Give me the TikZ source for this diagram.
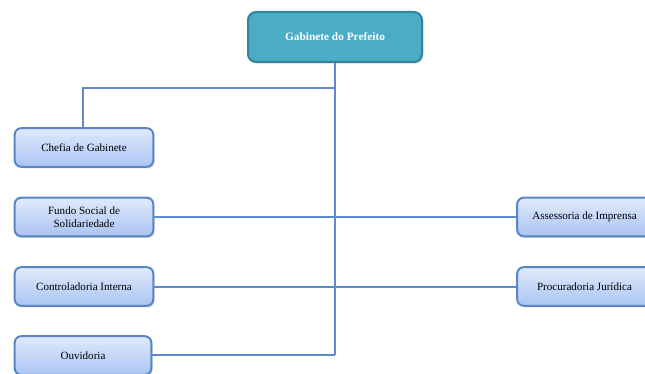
\documentclass[tikz,border=0pt]{standalone}
\usepackage{fontspec}
\setmainfont{Liberation Serif}
\usetikzlibrary{shadows}
\definecolor{headfill}{HTML}{4BACC6}
\definecolor{headedge}{HTML}{31849B}
\definecolor{unitedge}{HTML}{5A86C4}
\definecolor{unittop}{HTML}{E0EAFC}
\definecolor{unitbot}{HTML}{AAC4F2}
\definecolor{linkblue}{HTML}{5E8ACB}
\tikzset{
  px/.style={x=0.75pt,y=-0.75pt},
  headbox/.style={draw=headedge, line width=1.5pt, fill=headfill, rounded corners=6pt,
    minimum width=130.5pt, minimum height=37.5pt, inner sep=0pt,
    text=white, font=\fontsize{8.5}{10}\selectfont\bfseries,
    drop shadow={shadow xshift=1pt, shadow yshift=-1.2pt, opacity=0.35}},
  unitbox/.style={draw=unitedge, line width=1.5pt, top color=unittop, bottom color=unitbot,
    rounded corners=5pt, minimum width=104pt, minimum height=29pt, inner sep=0pt,
    align=center, font=\fontsize{8.3}{9.4}\selectfont,
    drop shadow={shadow xshift=1pt, shadow yshift=-1.2pt, opacity=0.3}},
  link/.style={draw=linkblue, line width=1.5pt}
}
\begin{document}
\begin{tikzpicture}[px]
  \useasboundingbox (0,0) rectangle (645,374);
  % organisational units
  \node[unitbox] (chefia) at (84,147.5) {Chefia de Gabinete};
  \node[unitbox] (fundo) at (84,217) {Fundo Social de\\Solidariedade};
  \node[unitbox] (contr) at (84,286.5) {Controladoria Interna};
  \node[unitbox, minimum width=102.5pt] (ouv) at (83,355.5) {Ouvidoria};
  \node[unitbox, minimum width=101pt] (asses) at (584.5,217) {Assessoria de Imprensa};
  \node[unitbox, minimum width=101pt] (procur) at (584.5,286.5) {Procuradoria Jurídica};
  % junction points on the trunk
  \coordinate (jtop) at (335,88);
  \coordinate (jbot) at (335,355);
  % connectors
  \draw[link] (335,62) -- (jbot);
  \draw[link] (jtop) -- (83,88) -- (chefia.north -| 83,0);
  \draw[link] (fundo.east) -- (asses.west);
  \draw[link] (contr.east) -- (procur.west);
  \draw[link] (ouv.east |- jbot) -- (jbot);
  % head of the office
  \node[headbox] (gab) at (335,37) {Gabinete do Prefeito};
\end{tikzpicture}
\end{document}
